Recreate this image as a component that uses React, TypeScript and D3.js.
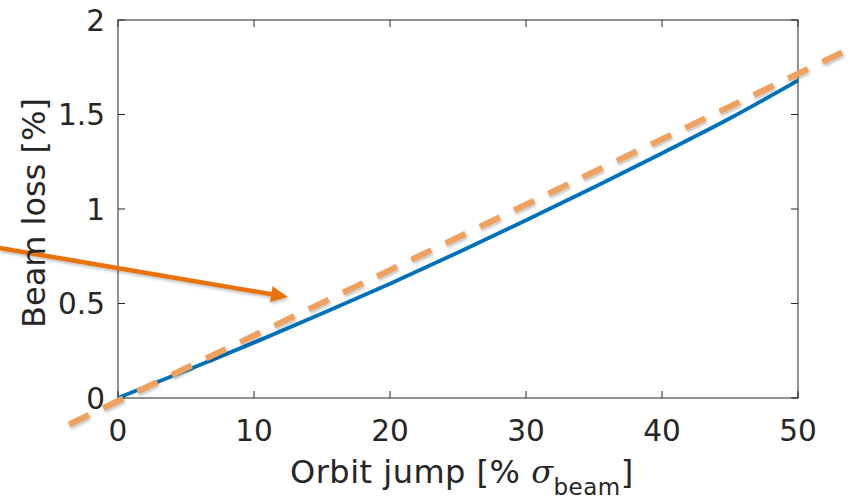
import * as d3 from "d3";
import React, { useRef, useEffect } from "react";

// blue curve: beam loss vs orbit jump
const jumpX = [0, 5, 10, 15, 20, 25, 30, 35, 40, 45, 50];
const lossY = [0, 0.145, 0.293, 0.447, 0.605, 0.77, 0.94, 1.115, 1.295, 1.48, 1.68];

// dashed linear fit (runs past the axes)
const fitX = [-3.6, 53.3];
const fitY = [-0.14, 1.83];

// arrow annotation, data coords (tail -> tip)
const arrowX = [-8.7, 12.5];
const arrowY = [0.794, 0.534];

const xTicks = [0, 10, 20, 30, 40, 50];
const yTicks = [0, 0.5, 1, 1.5, 2];

const width = 848;
const height = 502;
const margin = { top: 20, right: 50, bottom: 104, left: 118 };

function App() {
  const ref = useRef<SVGSVGElement>(null);

  useEffect(() => {
    const innerWidth = width - margin.left - margin.right;
    const innerHeight = height - margin.top - margin.bottom;

    const svg = d3.select(ref.current);
    svg.selectAll("*").remove();

    const defs = svg.append("defs");
    const shadow = defs.append("filter").attr("id", "shadow")
      .attr("x", "-20%").attr("y", "-20%").attr("width", "140%").attr("height", "140%");
    shadow.append("feDropShadow")
      .attr("dx", 1).attr("dy", 2).attr("stdDeviation", 1.5)
      .attr("flood-color", "#000").attr("flood-opacity", 0.25);

    const chart = svg.append("g")
      .attr("transform", `translate(${margin.left},${margin.top})`);

    const xScale = d3.scaleLinear().domain([0, 50]).range([0, innerWidth]);
    const yScale = d3.scaleLinear().domain([0, 2]).range([innerHeight, 0]);

    const font = "'DejaVu Sans', 'Liberation Sans', Arial, sans-serif";
    const axisColor = "#262626";

    // box
    chart.append("rect")
      .attr("width", innerWidth).attr("height", innerHeight)
      .attr("fill", "none").attr("stroke", axisColor).attr("stroke-width", 1);

    const tick = 7;
    xTicks.forEach((t) => {
      const x = xScale(t);
      chart.append("line").attr("x1", x).attr("x2", x)
        .attr("y1", innerHeight).attr("y2", innerHeight - tick).attr("stroke", axisColor);
      chart.append("line").attr("x1", x).attr("x2", x)
        .attr("y1", 0).attr("y2", tick).attr("stroke", axisColor);
      chart.append("text")
        .attr("x", x).attr("y", innerHeight + 43)
        .attr("text-anchor", "middle")
        .style("font-family", font).style("font-size", "29.5px")
        .attr("fill", axisColor)
        .text(t);
    });
    yTicks.forEach((t) => {
      const y = yScale(t);
      chart.append("line").attr("x1", 0).attr("x2", tick)
        .attr("y1", y).attr("y2", y).attr("stroke", axisColor);
      chart.append("line").attr("x1", innerWidth).attr("x2", innerWidth - tick)
        .attr("y1", y).attr("y2", y).attr("stroke", axisColor);
      chart.append("text")
        .attr("x", -13).attr("y", y).attr("dy", "0.36em")
        .attr("text-anchor", "end")
        .style("font-family", font).style("font-size", "29.5px")
        .attr("fill", axisColor)
        .text(t);
    });

    // blue curve
    const line = d3.line<number>()
      .x((d, i) => xScale(jumpX[i]))
      .y((d) => yScale(d))
      .curve(d3.curveMonotoneX);
    chart.append("path")
      .datum(lossY)
      .attr("d", line)
      .attr("fill", "none")
      .attr("stroke", "#0072BD")
      .attr("stroke-width", 3.8);

    // dashed fit
    const fitLine = d3.line<number>()
      .x((d, i) => xScale(fitX[i]))
      .y((d) => yScale(d));
    chart.append("path")
      .datum(fitY)
      .attr("d", fitLine)
      .attr("fill", "none")
      .attr("stroke", "#EFA25E")
      .attr("stroke-width", 6)
      .attr("stroke-dasharray", "22,16")
      .attr("filter", "url(#shadow)");

    // axis titles
    svg.append("text")
      .attr("transform", `translate(45, ${margin.top + innerHeight / 2 + 4}) rotate(-90)`)
      .attr("text-anchor", "middle")
      .style("font-family", font).style("font-size", "32px")
      .attr("fill", axisColor)
      .text("Beam loss [%]");

    const xt = svg.append("text")
      .attr("x", 290)
      .attr("y", 483)
      .attr("text-anchor", "start")
      .style("font-family", font).style("font-size", "32px")
      .style("letter-spacing", "0.5px")
      .attr("fill", axisColor);
    xt.append("tspan").text("Orbit jump [% ");
    xt.append("tspan").style("font-family", "'DejaVu Serif', 'Liberation Serif', serif")
      .style("font-style", "italic").text("σ");
    xt.append("tspan").attr("dy", 12).style("font-size", "23px").text("beam");
    xt.append("tspan").attr("dy", -12).text("]");

    // arrow annotation
    const ax0 = xScale(arrowX[0]), ay0 = yScale(arrowY[0]);
    const ax1 = xScale(arrowX[1]), ay1 = yScale(arrowY[1]);
    const ang = Math.atan2(ay1 - ay0, ax1 - ax0);
    const headLen = 17, headW = 8;
    const bx = ax1 - headLen * Math.cos(ang), by = ay1 - headLen * Math.sin(ang);
    const arrow = chart.append("g").attr("filter", "url(#shadow)");
    arrow.append("line")
      .attr("x1", ax0).attr("y1", ay0).attr("x2", bx + 2 * Math.cos(ang)).attr("y2", by + 2 * Math.sin(ang))
      .attr("stroke", "#E8730E").attr("stroke-width", 4.5);
    arrow.append("path")
      .attr("d", `M${ax1},${ay1} L${bx - headW * Math.sin(ang)},${by + headW * Math.cos(ang)} L${bx + headW * Math.sin(ang)},${by - headW * Math.cos(ang)} Z`)
      .attr("fill", "#E8730E");
  }, []);

  return (
    <div style={{ position: "absolute", left: 0, top: 0 }}>
      <svg ref={ref} width={width} height={height} style={{ display: "block", background: "#fff" }}></svg>
    </div>
  );
}

export default App;
